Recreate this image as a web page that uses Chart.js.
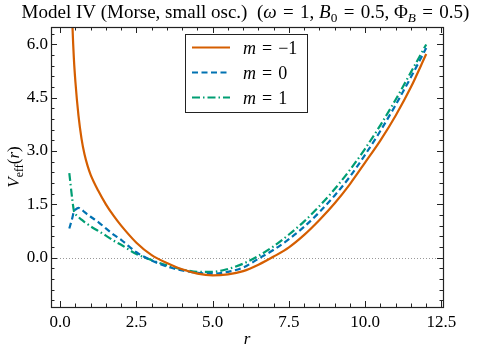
<!DOCTYPE html>
<html>
<head>
<meta charset="utf-8">
<script src="https://cdn.jsdelivr.net/npm/chart.js@4.4.1/dist/chart.umd.min.js"></script>
<style>
  html, body { margin: 0; padding: 0; background: #fff; }
  canvas { display: block; }
</style>
</head>
<body>
<canvas id="chart" width="478" height="351"></canvas>
<script>
// radius values sampled along the curves
const r = [0.3, 0.4, 0.45, 0.5, 0.6, 0.7, 0.8, 0.9, 1.0, 1.25, 1.5, 1.75, 2.0, 2.5, 3.0, 3.5, 4.0, 4.5, 5.0, 5.5, 6.0, 6.5, 7.0, 7.5, 8.0, 8.5, 9.0, 9.5, 10.0, 10.5, 11.0, 11.5, 12.0];

// V_eff(r) for each m
const vMinus1 = [9.5, 6.6, 5.6, 4.95, 4.0, 3.35, 2.9, 2.58, 2.33, 1.88, 1.5, 1.18, 0.9, 0.42, 0.07, -0.15, -0.33, -0.45, -0.5, -0.47, -0.38, -0.2, 0.03, 0.29, 0.64, 1.06, 1.53, 2.07, 2.68, 3.3, 4.0, 4.8, 5.73];
const vZero = [0.82, 1.12, 1.3, 1.35, 1.4, 1.35, 1.28, 1.21, 1.15, 1.0, 0.82, 0.65, 0.5, 0.15, -0.08, -0.25, -0.36, -0.43, -0.45, -0.4, -0.28, -0.03, 0.22, 0.52, 0.87, 1.28, 1.75, 2.28, 2.9, 3.57, 4.3, 5.08, 5.9];
const vPlus1 = [2.38, 1.62, 1.32, 1.23, 1.14, 1.07, 1.0, 0.94, 0.88, 0.75, 0.62, 0.48, 0.36, 0.1, -0.07, -0.22, -0.33, -0.4, -0.4, -0.32, -0.17, 0.05, 0.32, 0.65, 1.02, 1.45, 1.93, 2.47, 3.07, 3.73, 4.45, 5.22, 6.0];

const seriesNames = ["\u22121", "0", "1"];
const seriesColors = ["#d55e00", "#0072b2", "#009e73"];
const seriesDash = [[], [6, 3.5], [8, 3, 1.5, 3]];

const xTicks = [0, 2.5, 5, 7.5, 10, 12.5];
const xTickLabels = ["0.0", "2.5", "5.0", "7.5", "10.0", "12.5"];
const yTicks = [0, 1.5, 3, 4.5, 6];
const yTickLabels = ["0.0", "1.5", "3.0", "4.5", "6.0"];

const FONT = "'Liberation Serif', 'DejaVu Serif', serif";
const SIZE = 17;
const EQ = " \u200a=\u200a "; // a bit wider, like TeX math spacing

function pts(vals) {
  return r.map((x, i) => ({ x: x, y: vals[i] }));
}

// draw a run of text pieces: {t, it, sub}
function richWidth(ctx, parts, size) {
  let w = 0;
  parts.forEach(p => {
    const s = p.sub ? size * 0.7 : size;
    ctx.font = (p.it ? "italic " : "") + s + "px " + FONT;
    w += ctx.measureText(p.t).width;
  });
  return w;
}
function drawRich(ctx, parts, x, y, size) {
  ctx.textBaseline = "alphabetic";
  ctx.textAlign = "left";
  parts.forEach(p => {
    const s = p.sub ? size * 0.7 : size;
    ctx.font = (p.it ? "italic " : "") + s + "px " + FONT;
    ctx.fillText(p.t, x, y + (p.sub ? size * 0.22 : 0));
    x += ctx.measureText(p.t).width;
  });
}

const decor = {
  id: "decor",
  beforeDatasetsDraw(chart) {
    const { ctx, chartArea: a, scales: { y } } = chart;
    const y0 = y.getPixelForValue(0);
    ctx.save();
    ctx.strokeStyle = "#999";
    ctx.lineWidth = 1;
    ctx.setLineDash([1, 2]);
    ctx.beginPath();
    ctx.moveTo(a.left, Math.round(y0) + 0.5);
    ctx.lineTo(a.right, Math.round(y0) + 0.5);
    ctx.stroke();
    ctx.restore();
  },
  afterDraw(chart) {
    const { ctx, chartArea: a, scales: { x, y } } = chart;
    ctx.save();
    ctx.fillStyle = "#000";
    ctx.strokeStyle = "#222";
    ctx.lineWidth = 1;

    // ticks, inward on all four sides
    ctx.beginPath();
    for (let v = 0; v <= 12.5001; v += 0.5) {
      const px = Math.round(x.getPixelForValue(v)) + 0.5;
      const major = Math.abs(v / 2.5 - Math.round(v / 2.5)) < 1e-6;
      const len = major ? 6 : 3.5;
      ctx.moveTo(px, a.bottom); ctx.lineTo(px, a.bottom - len);
      ctx.moveTo(px, a.top); ctx.lineTo(px, a.top + len);
    }
    for (let k = -4; k <= 21; k++) {
      const v = k * 0.3;
      if (v < y.min || v > y.max) continue;
      const py = Math.round(y.getPixelForValue(v)) + 0.5;
      const len = k % 5 === 0 ? 6 : 3.5;
      ctx.moveTo(a.left, py); ctx.lineTo(a.left + len, py);
      ctx.moveTo(a.right, py); ctx.lineTo(a.right - len, py);
    }
    ctx.stroke();

    // frame
    ctx.lineWidth = 1.2;
    ctx.strokeRect(Math.round(a.left) + 0.5, Math.round(a.top) + 0.5,
      Math.round(a.right - a.left), Math.round(a.bottom - a.top));

    // title
    const title = [
      { t: "Model IV (Morse, small osc.)  (" },
      { t: "\u03c9", it: true }, { t: EQ + "1, " },
      { t: "B", it: true }, { t: "0", sub: true }, { t: EQ + "0.5, \u03a6" },
      { t: "B", it: true, sub: true }, { t: EQ + "0.5)" }
    ];
    const tw = richWidth(ctx, title, 19);
    drawRich(ctx, title, 245.5 - tw / 2, 18, 19);

    // axis labels
    const xl = [{ t: "r", it: true }];
    drawRich(ctx, xl, (a.left + a.right) / 2 - richWidth(ctx, xl, SIZE) / 2, 344, SIZE);
    const yl = [{ t: "V", it: true }, { t: "eff", sub: true }, { t: "(" }, { t: "r", it: true }, { t: ")" }];
    ctx.save();
    ctx.translate(19, (a.top + a.bottom) / 2);
    ctx.rotate(-Math.PI / 2);
    drawRich(ctx, yl, -richWidth(ctx, yl, SIZE) / 2, 0, SIZE);
    ctx.restore();

    // legend box
    const lx = 185.5, ly = 34.5, lw = 122, lh = 78;
    ctx.fillStyle = "#fff";
    ctx.fillRect(lx, ly, lw, lh);
    ctx.strokeStyle = "#222";
    ctx.lineWidth = 1;
    ctx.strokeRect(lx, ly, lw, lh);
    seriesNames.forEach((name, i) => {
      const ry = 47.5 + i * 25;
      ctx.strokeStyle = seriesColors[i];
      ctx.lineWidth = 2.2;
      ctx.setLineDash(seriesDash[i]);
      ctx.beginPath();
      ctx.moveTo(192, ry); ctx.lineTo(230, ry);
      ctx.stroke();
      ctx.setLineDash([]);
      ctx.fillStyle = "#000";
      drawRich(ctx, [{ t: "m", it: true }, { t: EQ + name }], 243, ry + 6, 18);
    });
    ctx.restore();
  }
};

const datasets = [vMinus1, vZero, vPlus1].map((vals, i) => ({
  label: "m = " + seriesNames[i],
  data: pts(vals),
  borderColor: seriesColors[i],
  borderWidth: 2.2,
  borderDash: seriesDash[i],
  pointRadius: 0,
  fill: false,
  cubicInterpolationMode: "monotone"
}));

new Chart(document.getElementById("chart"), {
  type: "line",
  data: { datasets: datasets },
  options: {
    responsive: false,
    animation: false,
    devicePixelRatio: 1,
    layout: { padding: { top: 27, right: 35, left: 0, bottom: 0 } },
    plugins: { legend: { display: false }, tooltip: { enabled: false }, title: { display: false } },
    scales: {
      x: {
        type: "linear",
        min: -0.3,
        max: 12.55,
        grid: { display: false, drawTicks: false },
        border: { display: false },
        afterBuildTicks: s => { s.ticks = xTicks.map(v => ({ value: v })); },
        afterFit: s => { s.height = 44; },
        ticks: {
          autoSkip: false,
          maxRotation: 0,
          padding: 5,
          color: "#000",
          font: { family: FONT, size: SIZE },
          callback: v => xTickLabels[xTicks.indexOf(v)]
        }
      },
      y: {
        type: "linear",
        min: -1.39,
        max: 6.49,
        grid: { display: false, drawTicks: false },
        border: { display: false },
        afterBuildTicks: s => { s.ticks = yTicks.map(v => ({ value: v })); },
        afterFit: s => { s.width = 51; },
        ticks: {
          autoSkip: false,
          padding: 3,
          color: "#000",
          font: { family: FONT, size: SIZE },
          callback: v => yTickLabels[yTicks.indexOf(v)]
        }
      }
    }
  },
  plugins: [decor]
});
</script>
</body>
</html>
